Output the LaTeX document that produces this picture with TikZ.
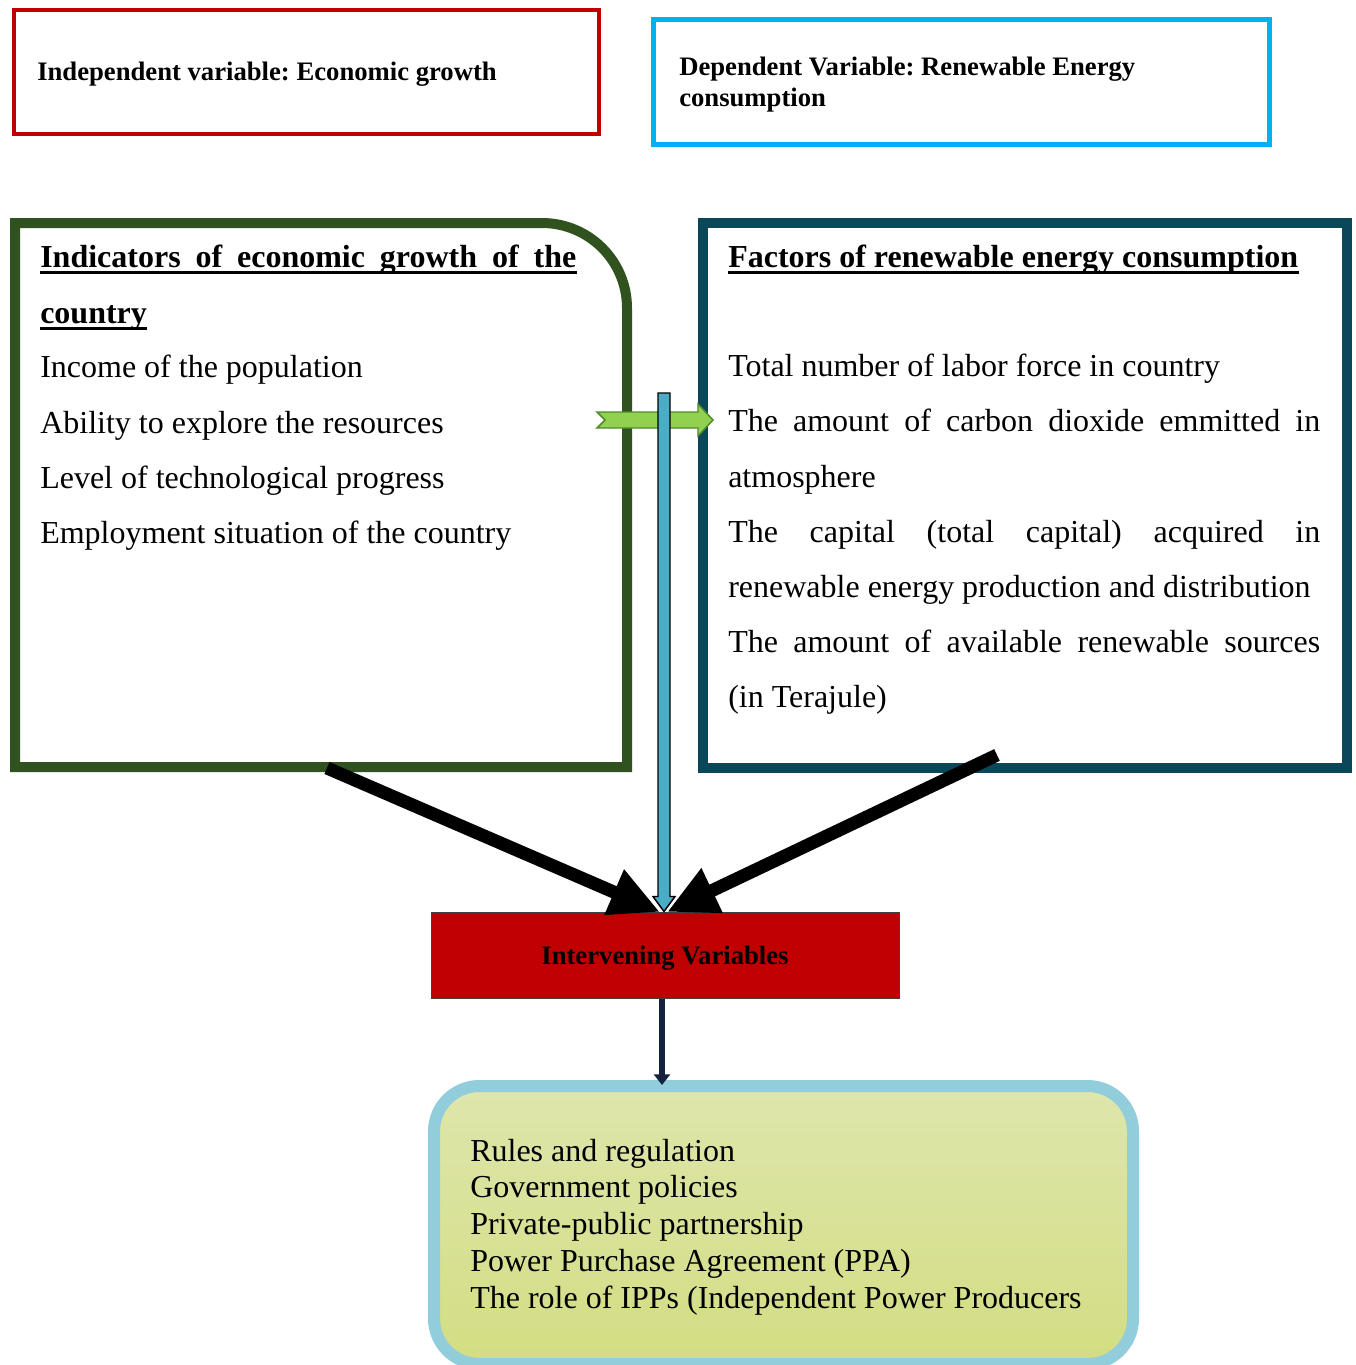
\documentclass[tikz,border=0pt]{standalone}
\usepackage{fontspec}
\setmainfont{Liberation Serif}
\usetikzlibrary{arrows.meta,calc}
\frenchspacing
\definecolor{indepred}{HTML}{C00000}
\definecolor{depblue}{HTML}{00B0F0}
\definecolor{growthgreen}{HTML}{30521F}
\definecolor{factorteal}{HTML}{0A475A}
\definecolor{arrowgreen}{HTML}{92D050}
\definecolor{arrowgreenline}{HTML}{4E8A2A}
\definecolor{shaftblue}{HTML}{4BACC6}
\definecolor{panelblue}{HTML}{92CDDC}
\definecolor{paneltop}{HTML}{DEE6AC}
\definecolor{panelbottom}{HTML}{D3DD82}
\definecolor{navyline}{HTML}{14223F}
\newcommand\justR[1]{\makebox[444pt][s]{#1}}
\newcommand\justL[1]{\makebox[402pt][s]{#1}}
\begin{document}
\begin{tikzpicture}[x=0.75pt,y=-0.75pt,
  bodytext/.style={anchor=base west, inner sep=0pt, font=\fontsize{24}{28}\selectfont},
  headtext/.style={anchor=base west, inner sep=0pt, font=\fontsize{24}{28}\selectfont\bfseries},
  toptext/.style={anchor=base west, inner sep=0pt, font=\fontsize{20}{24}\selectfont\bfseries},
  underbar/.style={line width=2.25pt},
  heavyarrow/.style={line width=9.75pt, -{Triangle[length=37.5pt,width=34.5pt]}},
  greenarrow/.style={fill=arrowgreen, draw=arrowgreenline, line width=1.1pt, line join=miter},
  bluearrow/.style={fill=shaftblue, draw=black, line width=1.1pt, line join=miter},
  navyarrow/.style={draw=navyline, line width=4pt, -{Triangle[length=8pt,width=12pt]}}]
\useasboundingbox (0,0) rectangle (1356,1365);

% top boxes
\node[draw=indepred, line width=3pt, minimum width=438.75pt, minimum height=93pt, inner sep=0pt] (indep) at (306.5,72) {};
\node[toptext] (indeptext) at (37,80) {Independent variable: Economic growth};

\node[draw=depblue, line width=3.75pt, minimum width=462pt, minimum height=93.75pt, inner sep=0pt] (dep) at (961.5,82) {};
\node[toptext] (deptext1) at (679,75) {Dependent Variable: Renewable Energy};
\node[toptext] (deptext2) at (679,106) {consumption};

% growth box (rounded top-right corner)
\draw[draw=growthgreen, line width=7.5pt, line join=miter] (15,767) -- (15,223) -- (542,223) .. controls (589,223) and (627,261) .. (627,308) -- (627,767) -- cycle;
\node[minimum width=459pt, minimum height=408pt, inner sep=0pt, outer sep=0pt] (growth) at (321,495) {};

\node[headtext] (gh1) at (40,267) {\justL{Indicators of economic growth of the}};
\node[headtext] (gh2) at (40,323) {country};
\draw[underbar] ([yshift=-3.75pt]gh1.base west) -- ([yshift=-3.75pt]gh1.base east);
\draw[underbar] ([yshift=-3.75pt]gh2.base west) -- ([yshift=-3.75pt]gh2.base east);
\node[bodytext] (g1) at (40,377) {Income of the population};
\node[bodytext] (g2) at (40,433) {Ability to explore the resources};
\node[bodytext] (g3) at (40,488) {Level of technological progress};
\node[bodytext] (g4) at (40,543) {Employment situation of the country};

% factors box
\node[draw=factorteal, line width=7.5pt, minimum width=483pt, minimum height=408.75pt, inner sep=0pt] (factors) at (1024.5,495) {};
\node[headtext] (fh) at (728,267) {Factors of renewable energy consumption};
\draw[underbar] ([yshift=-3.75pt]fh.base west) -- ([yshift=-3.75pt]fh.base east);
\node[bodytext] (f1) at (728,376) {Total number of labor force in country};
\node[bodytext] (f2) at (728,431) {\justR{The amount of carbon dioxide emmitted in}};
\node[bodytext] (f3) at (728,487) {atmosphere};
\node[bodytext] (f4) at (728,542) {\justR{The capital (total capital) acquired in}};
\node[bodytext] (f5) at (728,597) {renewable energy production and distribution};
\node[bodytext] (f6) at (728,652) {\justR{The amount of available renewable sources}};
\node[bodytext] (f7) at (728,707) {(in Terajule)};

% intervening box
\node[fill=indepred, draw=black!75, line width=0.75pt, minimum width=351pt, minimum height=64.5pt, inner sep=0pt,
      text depth=0pt, font=\fontsize{20}{24}\selectfont\bfseries] (inter) at (665,955) {Intervening Variables};

% heavy black arrows
\draw[heavyarrow] ($(growth.south)+(6,1)$) -- ($(inter.north)+(-5,0.5)$);
\draw[heavyarrow] ($(factors.south)+(-27.5,-17.5)$) -- ($(inter.north)+(2,0.5)$);

% green arrow between the boxes
\coordinate (gtail) at (597,412);
\draw[greenarrow] (gtail) -- ++(101,0) -- ++(0,-8) -- ++(15,16) -- ++(-15,16) -- ++(0,-8) -- ++(-101,0) -- ++(8,-8) -- cycle;

% blue vertical arrow
\coordinate (bluetop) at (664,393);
\coordinate (bluetip) at (inter.north -| bluetop);
\draw[bluearrow] ($(bluetop)+(-6,0)$) -- ($(bluetop)+(6,0)$) -- ($(bluetip)+(6,-15)$) -- ($(bluetip)+(11,-15)$)
  -- (bluetip) -- ($(bluetip)+(-11,-15)$) -- ($(bluetip)+(-6,-15)$) -- cycle;

% bottom panel
\node[draw=panelblue, line width=9pt, rounded corners=34pt, minimum width=524.25pt, minimum height=208.5pt, inner sep=0pt,
      top color=paneltop, bottom color=panelbottom] (panel) at (783.5,1225) {};
\node[bodytext] (p1) at (470,1161) {Rules and regulation};
\node[bodytext] (p2) at (470,1197) {Government policies};
\node[bodytext] (p3) at (470,1234) {Private-public partnership};
\node[bodytext] (p4) at (470,1271) {Power Purchase Agreement (PPA)};
\node[bodytext] (p5) at (470,1308) {The role of IPPs (Independent Power Producers};

% navy arrow
\coordinate (navytop) at ($(inter.south)+(-3,0)$);
\draw[navyarrow] (navytop) -- ([yshift=-3.75pt]navytop |- panel.north);
\end{tikzpicture}
\end{document}
